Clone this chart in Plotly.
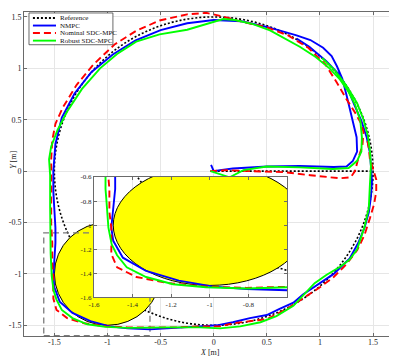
import plotly.graph_objects as go

# reference path: straight run from the origin, then a circle of radius 1.5
ref_x = [0.0, 1.5]
ref_y = [0.0, 0.0]
ref_r = 1.5

# obstacle disk
obs_cx, obs_cy, obs_r = -1.0, -1.0, 0.5

# region blown up in the inset
zoom_x = [-1.6, -0.6]
zoom_y = [-1.6, -0.6]

nmpc_x = [-0.025, 0.0, 0.06, 0.18, 0.50, 0.81, 1.13, 1.25, 1.31, 1.35, 1.345, 1.31, 1.28, 1.25,
          1.21, 1.16, 1.11, 1.03, 0.91, 0.78, 0.51, 0.26, 0.0, -0.25, -0.50, -0.735, -0.95, -1.15,
          -1.31, -1.43, -1.49, -1.51, -1.51, -1.50, -1.49, -1.49, -1.50, -1.51, -1.50, -1.45, -1.33,
          -1.16, -0.98, -0.81, -0.60, -0.40, -0.20, 0.03, 0.18, 0.34, 0.50, 0.62, 0.75, 0.84, 0.97,
          1.13, 1.28, 1.36, 1.42, 1.46, 1.48, 1.49, 1.48, 1.47, 1.44, 1.39, 1.33, 1.27, 1.19, 1.06,
          0.90, 0.78]
nmpc_y = [0.06, 0.0, 0.01, 0.025, 0.045, 0.05, 0.04, 0.045, 0.10, 0.19, 0.33, 0.49, 0.62, 0.74,
          0.90, 1.02, 1.12, 1.20, 1.275, 1.32, 1.40, 1.458, 1.47, 1.438, 1.372, 1.273, 1.134, 0.964,
          0.755, 0.52, 0.264, 0.0, -0.20, -0.40, -0.55, -0.70, -0.85, -1.02, -1.13, -1.27, -1.38,
          -1.46, -1.51, -1.53, -1.54, -1.53, -1.515, -1.50, -1.47, -1.43, -1.40, -1.34, -1.28, -1.20,
          -1.11, -1.00, -0.85, -0.70, -0.55, -0.40, -0.25, -0.10, 0.05, 0.18, 0.33, 0.49, 0.63, 0.78,
          0.93, 1.07, 1.21, 1.29]

nominal_x = [-0.035, 0.12, 0.34, 0.66, 0.91, 1.19, 1.29, 1.33, 1.36, 1.40, 1.41, 1.39, 1.33, 1.25,
             1.16, 1.05, 0.89, 0.70, 0.50, 0.28, 0.06, -0.07, -0.25, -0.51, -0.73, -0.93, -1.13,
             -1.29, -1.42, -1.49, -1.52, -1.53, -1.53, -1.53, -1.52, -1.52, -1.51, -1.51, -1.48,
             -1.38, -1.22, -1.015, -0.81, -0.35, -0.13, 0.06, 0.18, 0.50, 0.69, 0.84, 1.0, 1.13,
             1.25, 1.35, 1.42, 1.47, 1.51, 1.53, 1.53, 1.50, 1.47, 1.46, 1.44]
nominal_y = [0.0, 0.01, 0.0, -0.01, -0.04, -0.07, -0.06, 0.0, 0.12, 0.25, 0.38, 0.46, 0.57, 0.70,
             0.86, 1.04, 1.20, 1.32, 1.40, 1.45, 1.51, 1.54, 1.525, 1.465, 1.365, 1.235, 1.04,
             0.84, 0.62, 0.46, 0.30, 0.115, -0.20, -0.51, -0.70, -0.89, -1.02, -1.24, -1.35,
             -1.43, -1.48, -1.51, -1.52, -1.52, -1.51, -1.51, -1.48, -1.44, -1.34, -1.24, -1.13,
             -1.03, -0.905, -0.77, -0.62, -0.46, -0.32, -0.20, -0.08, 0.02, 0.12, 0.22, 0.33]

robust_x = [-0.03, 0.06, 0.15, 0.28, 0.50, 0.81, 1.12, 1.27, 1.35, 1.39, 1.395, 1.38, 1.33, 1.27,
            1.19, 1.09, 0.96, 0.81, 0.65, 0.53, 0.37, 0.20, 0.09, -0.07, -0.25, -0.51, -0.73, -0.91,
            -1.07, -1.24, -1.38, -1.47, -1.53, -1.55, -1.54, -1.54, -1.54, -1.535, -1.525, -1.508,
            -1.48, -1.43, -1.33, -1.19, -1.02, -0.81, -0.44, -0.13, 0.06, 0.25, 0.44, 0.59, 0.75,
            0.86, 0.95, 1.06, 1.19, 1.28, 1.35, 1.42, 1.46, 1.47, 1.48, 1.47, 1.45, 1.41, 1.35,
            1.25, 1.14, 1.02]
robust_y = [0.0, -0.03, -0.06, 0.01, 0.045, 0.036, 0.02, 0.03, 0.10, 0.19, 0.33, 0.49, 0.65, 0.77,
            0.89, 1.00, 1.11, 1.21, 1.30, 1.37, 1.43, 1.47, 1.48, 1.43, 1.375, 1.33, 1.26, 1.14,
            1.00, 0.80, 0.58, 0.40, 0.24, 0.115, -0.04, -0.35, -0.70, -0.80, -1.02, -1.16,
            -1.25, -1.35, -1.43, -1.49, -1.515, -1.525, -1.52, -1.52, -1.53, -1.51, -1.47, -1.41,
            -1.31, -1.19, -1.09, -1.01, -0.93, -0.86, -0.76, -0.54, -0.36, -0.14, 0.05, 0.20, 0.35,
            0.50, 0.66, 0.83, 0.98, 1.10]

series = [
    ("Reference", ref_x, ref_y, "black", "2px,2px"),
    ("NMPC", nmpc_x, nmpc_y, "#0000ff", "solid"),
    ("Nominal SDC-MPC", nominal_x, nominal_y, "#ff0000", "7px,4px"),
    ("Robust SDC-MPC", robust_x, robust_y, "#00ff00", "solid"),
]

SERIF = "Liberation Serif"
fig = go.Figure()

for ax in ("", "2"):
    for name, xs, ys, col, dash in series:
        fig.add_trace(go.Scatter(x=xs, y=ys, mode="lines", name=name, showlegend=False,
                                 line=dict(color=col, width=1.9, dash=dash),
                                 xaxis="x" + ax, yaxis="y" + ax, hoverinfo="skip"))

shapes = []
for xr, yr in (("x", "y"), ("x2", "y2")):
    shapes.append(dict(type="circle", xref=xr, yref=yr, layer="between",
                       x0=-ref_r, x1=ref_r, y0=-ref_r, y1=ref_r,
                       line=dict(color="black", width=1.6, dash="2px,2px")))
    shapes.append(dict(type="circle", xref=xr, yref=yr, layer="between",
                       x0=obs_cx - obs_r, x1=obs_cx + obs_r, y0=obs_cy - obs_r, y1=obs_cy + obs_r,
                       fillcolor="#ffff00", line=dict(color="black", width=1)))
    if xr == "x":
        shapes.append(dict(type="rect", xref="x", yref="y", layer="between",
                           x0=zoom_x[0], x1=zoom_x[1], y0=zoom_y[0], y1=zoom_y[1],
                           line=dict(color="#7a7a7a", width=1.3, dash="6px,4px")))

# hand-made legend (plotly's own legend rows are far too tall at this size)
shapes.append(dict(type="rect", xref="paper", yref="paper", layer="above",
                   x0=0.0134, x1=0.239, y0=0.899, y1=0.997,
                   fillcolor="white", line=dict(color="#444", width=0.8)))
annotations = []
rows = [0.9817, 0.9582, 0.9350, 0.9116]
for (name, xs, ys, col, dash), ry in zip(series, rows):
    shapes.append(dict(type="line", xref="paper", yref="paper", layer="above",
                       x0=0.024, x1=0.086, y0=ry, y1=ry,
                       line=dict(color=col, width=1.9, dash=dash)))
    annotations.append(dict(xref="paper", yref="paper", x=0.091, y=ry, text=name,
                            showarrow=False, xanchor="left", yanchor="middle",
                            font=dict(family=SERIF, size=7, color="#111")))

annotations.append(dict(xref="paper", yref="paper", x=0.5, y=-0.0495, text="<i>X</i> [m]",
                        showarrow=False, xanchor="center", yanchor="middle",
                        font=dict(family=SERIF, size=8, color="#222")))
annotations.append(dict(xref="paper", yref="paper", x=-0.0301, y=0.543, text="<i>Y</i> [m]",
                        showarrow=False, textangle=-90, xanchor="center", yanchor="middle",
                        font=dict(family=SERIF, size=8, color="#222")))

main_ticks = [-1.5, -1, -0.5, 0, 0.5, 1, 1.5]
main_text = ["-1.5", "-1", "-0.5", "0", "0.5", "1", "1.5"]
inset_xt = [-1.6, -1.4, -1.2, -1, -0.8]
inset_yt = [-1.6, -1.4, -1.2, -1, -0.8, -0.6]


def fmt(v):
    return "%g" % v


axis_common = dict(showline=True, linecolor="#6a6a6a", linewidth=1, mirror="ticks",
                   ticks="inside", ticklen=3, tickcolor="#6a6a6a",
                   showgrid=True, gridcolor="#e6e6e6", gridwidth=1, zeroline=False,
                   tickfont=dict(family=SERIF, size=8, color="#262626"))

# the page body adds an 8px margin, so the figure is a little smaller than the window
fig.update_layout(
    width=389, height=348,
    margin=dict(l=16, r=1, t=0, b=20),
    paper_bgcolor="white", plot_bgcolor="white",
    showlegend=False,
    xaxis=dict(axis_common, range=[-1.786, 1.716], domain=[0, 1],
               tickvals=main_ticks, ticktext=main_text, ticklabelstandoff=-2),
    yaxis=dict(axis_common, range=[-1.604, 1.548], domain=[0, 1],
               tickvals=main_ticks, ticktext=main_text),
    xaxis2=dict(axis_common, range=zoom_x, domain=[0.188, 0.707], anchor="y2",
                tickvals=inset_xt, ticktext=[fmt(v) for v in inset_xt],
                tickfont=dict(family=SERIF, size=7, color="#262626")),
    yaxis2=dict(axis_common, range=zoom_y, domain=[0.1189, 0.4909], anchor="x2",
                tickvals=inset_yt, ticktext=[fmt(v) for v in inset_yt],
                tickfont=dict(family=SERIF, size=7, color="#262626")),
    shapes=shapes,
    annotations=annotations,
)

fig.write_html("out.html")
